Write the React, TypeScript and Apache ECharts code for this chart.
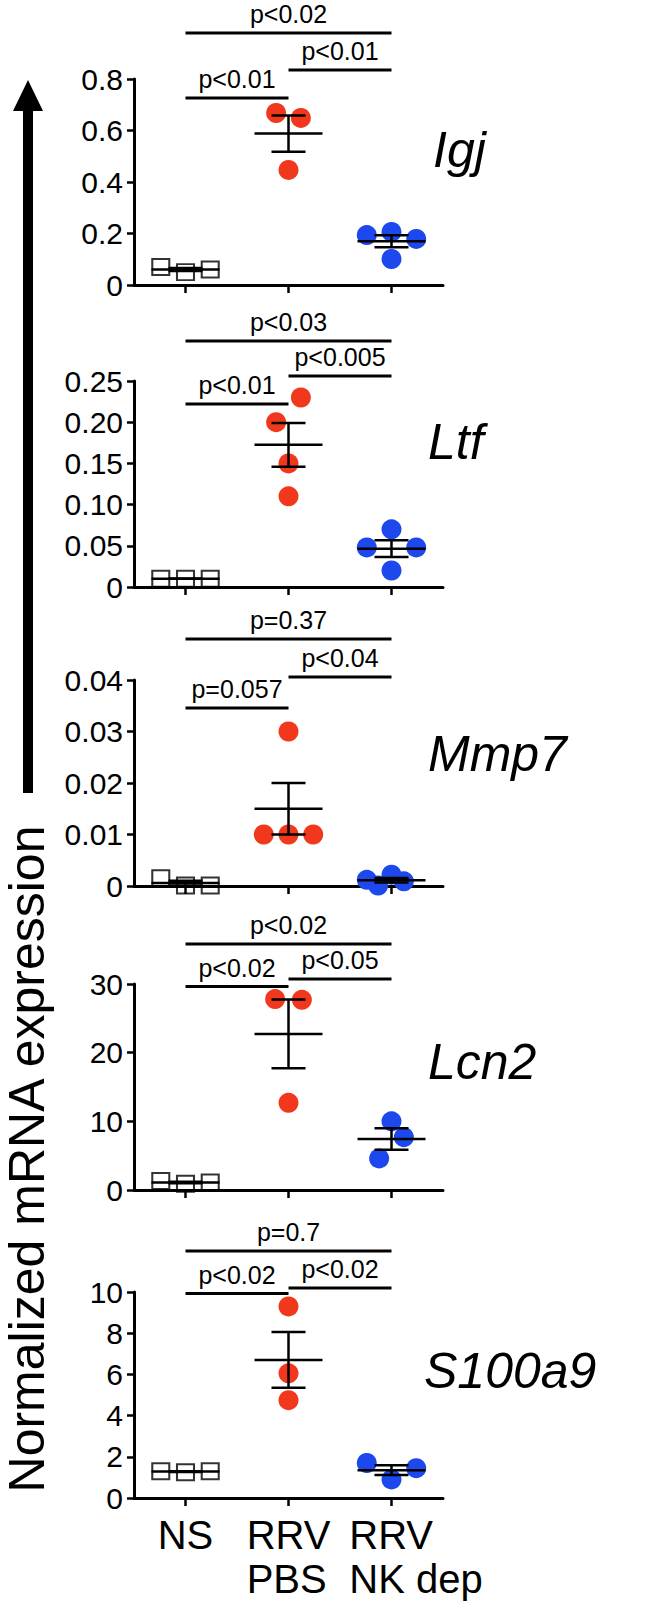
import React, { useEffect, useRef } from 'react';
import * as echarts from 'echarts';

// ---------------- data ----------------
const categories = ['NS', 'RRV\nPBS', 'RRV\nNK dep'];
const genes = ['Igj', 'Ltf', 'Mmp7', 'Lcn2', 'S100a9'];

// values per group: [NS, RRV PBS, RRV NK dep]
const igjValues = [[0.07, 0.05, 0.06], [0.668, 0.649, 0.447], [0.194, 0.206, 0.179, 0.101]];
const ltfValues = [[0.01, 0.01, 0.01], [0.2, 0.23, 0.15, 0.11], [0.07, 0.048, 0.048, 0.02]];
const mmp7Values = [[0.0015, 0.0001, 0.0001], [0.03, 0.01, 0.01, 0.01], [0.0012, 0.0022, 0.0001, 0.0009]];
const lcn2Values = [[1.3, 0.9, 1.1], [27.8, 27.7, 12.7], [10.0, 7.7, 4.6]];
const s100a9Values = [[1.3, 1.25, 1.3], [9.3, 6.05, 4.75], [1.7, 1.45, 0.9]];

// horizontal jitter of each point (in category widths)
const igjJitter = [[-0.24, 0, 0.24], [-0.12, 0.12, 0], [-0.24, 0, 0.24, 0]];
const ltfJitter = [[-0.24, 0, 0.24], [-0.12, 0.12, 0, 0], [0, -0.24, 0.24, 0]];
const mmp7Jitter = [[-0.24, 0, 0.24], [0, -0.24, 0, 0.24], [-0.24, 0, -0.13, 0.12]];
const lcn2Jitter = [[-0.24, 0, 0.24], [-0.13, 0.13, 0], [0, 0.12, -0.12]];
const s100a9Jitter = [[-0.24, 0, 0.24], [0, 0, 0], [-0.24, 0.24, 0]];

const yMax = [0.8, 0.25, 0.04, 30, 10];
const yStep = [0.2, 0.05, 0.01, 10, 2];
const yDigits = [1, 2, 2, 0, 0];

const pNsPbs = ['p<0.01', 'p<0.01', 'p=0.057', 'p<0.02', 'p<0.02'];
const pPbsNk = ['p<0.01', 'p<0.005', 'p<0.04', 'p<0.05', 'p<0.02'];
const pNsNk = ['p<0.02', 'p<0.03', 'p=0.37', 'p<0.02', 'p=0.7'];

const yTitle = 'Normalized mRNA expression';

// ---------------- layout / style ----------------
const FONT = '"Liberation Sans", Arial, Helvetica, sans-serif';
const GRID_LEFT = 134;
const GRID_W = 309;
const GRID_H = 206;
const gridTops = [79, 381, 680, 984, 1292];
// bracket line y offsets (px) from axis top: [NS-PBS, PBS-NK, NS-NK]
const bracketOffsets = [[19, -9, -46], [23, -5, -40], [28, -3, -41], [2.5, -5, -40], [1.6, -4, -41]];
const geneLabelPos = [[433, 150], [428, 441.5], [428, 753.5], [428, 1061.5], [424, 1370.5]];
const groupColors = ['#000000', '#F2381C', '#1C48EE'];

const panelValues = [igjValues, ltfValues, mmp7Values, lcn2Values, s100a9Values];
const panelJitter = [igjJitter, ltfJitter, mmp7Jitter, lcn2Jitter, s100a9Jitter];

const mean = (a: number[]) => a.reduce((s, v) => s + v, 0) / a.length;
const sem = (a: number[]) => {
  const m = mean(a);
  const sd = Math.sqrt(a.reduce((s, v) => s + (v - m) * (v - m), 0) / (a.length - 1));
  return sd / Math.sqrt(a.length);
};

function buildOption() {
  const grid: any[] = [];
  const xAxis: any[] = [];
  const yAxis: any[] = [];
  const series: any[] = [];

  genes.forEach((gene, i) => {
    grid.push({ left: GRID_LEFT, top: gridTops[i], width: GRID_W, height: GRID_H, outerBoundsMode: 'none', containLabel: false });
    const isLast = i === genes.length - 1;
    xAxis.push({
      type: 'category',
      gridIndex: i,
      data: categories.map((c, k) =>
        k === 2 ? { value: c, textStyle: { padding: [0, 0, 0, 49] } } : { value: c }
      ),
      boundaryGap: true,
      axisLine: { show: true, lineStyle: { color: '#000', width: 3 } },
      axisTick: { show: true, alignWithLabel: true, length: 8, lineStyle: { color: '#000', width: 2.5 } },
      splitLine: { show: false },
      axisLabel: isLast
        ? {
            show: true,
            interval: 0,
            margin: 15,
            formatter: (v: string) => v.split('\n').map((s) => `{a|${s}}`).join('\n'),
            rich: { a: { fontSize: 40, lineHeight: 44, fontFamily: FONT, color: '#000', align: 'left' } },
          }
        : { show: false },
    });
    xAxis.push({ type: 'value', gridIndex: i, min: 0, max: 3, show: false });
    yAxis.push({
      type: 'value',
      gridIndex: i,
      min: 0,
      max: yMax[i],
      interval: yStep[i],
      axisLine: { show: true, lineStyle: { color: '#000', width: 3 } },
      axisTick: { show: true, length: 7, lineStyle: { color: '#000', width: 2.5 } },
      splitLine: { show: false },
      axisLabel: {
        fontSize: 30,
        fontFamily: FONT,
        color: '#000',
        margin: 11,
        formatter: (v: number) => (v === 0 ? '0' : v.toFixed(yDigits[i])),
      },
    });

    const vals = panelValues[i];
    const jit = panelJitter[i];
    vals.forEach((arr, g) => {
      series.push({
        type: 'scatter',
        xAxisIndex: 2 * i + 1,
        yAxisIndex: i,
        silent: true,
        z: 2,
        symbol: g === 0 ? 'rect' : 'circle',
        symbolSize: g === 0 ? [17, 16] : 20,
        itemStyle:
          g === 0
            ? { color: 'rgba(0,0,0,0)', borderColor: '#000', borderWidth: 2 }
            : { color: groupColors[g], opacity: 1 },
        data: arr.map((v, k) => [g + 0.5 + jit[g][k], v]),
      });
    });

    // mean +/- SEM
    series.push({
      type: 'custom',
      xAxisIndex: 2 * i + 1,
      yAxisIndex: i,
      clip: false,
      silent: true,
      z: 5,
      encode: { x: 0, y: 1 },
      data: vals.map((arr, g) => [g + 0.5, mean(arr), sem(arr)]),
      renderItem: (params: any, api: any) => {
        const x = api.value(0);
        const m = api.value(1);
        const s = api.value(2);
        const pm = api.coord([x, m]);
        const pu = api.coord([x, m + s]);
        const pl = api.coord([x, m - s]);
        const st = { stroke: '#000', lineWidth: 2.5 };
        return {
          type: 'group',
          children: [
            { type: 'line', shape: { x1: pm[0] - 34, y1: pm[1], x2: pm[0] + 34, y2: pm[1] }, style: st },
            { type: 'line', shape: { x1: pu[0], y1: pu[1], x2: pl[0], y2: pl[1] }, style: st },
            { type: 'line', shape: { x1: pu[0] - 17, y1: pu[1], x2: pu[0] + 17, y2: pu[1] }, style: st },
            { type: 'line', shape: { x1: pl[0] - 17, y1: pl[1], x2: pl[0] + 17, y2: pl[1] }, style: st },
          ],
        };
      },
    });

    // significance brackets
    const labels = [pNsPbs[i], pPbsNk[i], pNsNk[i]];
    const pairs = [[0, 1], [1, 2], [0, 2]];
    series.push({
      type: 'custom',
      xAxisIndex: 2 * i + 1,
      yAxisIndex: i,
      clip: false,
      silent: true,
      z: 5,
      encode: { x: [0, 1], y: 2 },
      data: pairs.map((p, k) => [p[0] + 0.5, p[1] + 0.5, yMax[i], k]),
      renderItem: (params: any, api: any) => {
        const k = api.value(3);
        const a = api.coord([api.value(0), api.value(2)]);
        const b = api.coord([api.value(1), api.value(2)]);
        const y = a[1] + bracketOffsets[i][k];
        return {
          type: 'group',
          children: [
            { type: 'line', shape: { x1: a[0], y1: y, x2: b[0], y2: y }, style: { stroke: '#000', lineWidth: 3 } },
            {
              type: 'text',
              x: (a[0] + b[0]) / 2,
              y: y - 19,
              style: { text: labels[k], font: `25px ${FONT}`, fill: '#000', align: 'center', verticalAlign: 'middle' },
            },
          ],
        };
      },
    });
  });

  const graphic: any[] = [
    ...genes.map((g, i) => ({
      type: 'text',
      x: geneLabelPos[i][0],
      y: geneLabelPos[i][1],
      style: { text: g, font: `italic 50px ${FONT}`, fill: '#000', align: 'left', verticalAlign: 'middle' },
    })),
    {
      type: 'text',
      x: 27,
      y: 1159,
      rotation: Math.PI / 2,
      style: { text: yTitle, font: `50px ${FONT}`, fill: '#000', align: 'center', verticalAlign: 'middle' },
    },
    { type: 'rect', shape: { x: 23, y: 105, width: 10, height: 688 }, style: { fill: '#000' } },
    { type: 'polygon', shape: { points: [[28, 80], [13, 111], [43, 111]] }, style: { fill: '#000' } },
  ];

  return {
    animation: false,
    backgroundColor: '#fff',
    textStyle: { fontFamily: FONT },
    grid,
    xAxis,
    yAxis,
    series,
    graphic,
  };
}

export default function App() {
  const ref = useRef<HTMLDivElement>(null);
  useEffect(() => {
    if (!ref.current) return;
    const chart = echarts.init(ref.current, null, { renderer: 'svg' });
    chart.setOption(buildOption() as any);
    return () => chart.dispose();
  }, []);
  return (
    <div
      ref={ref}
      style={{ position: 'fixed', left: 0, top: 0, width: 666, height: 1603, background: '#fff' }}
    />
  );
}
